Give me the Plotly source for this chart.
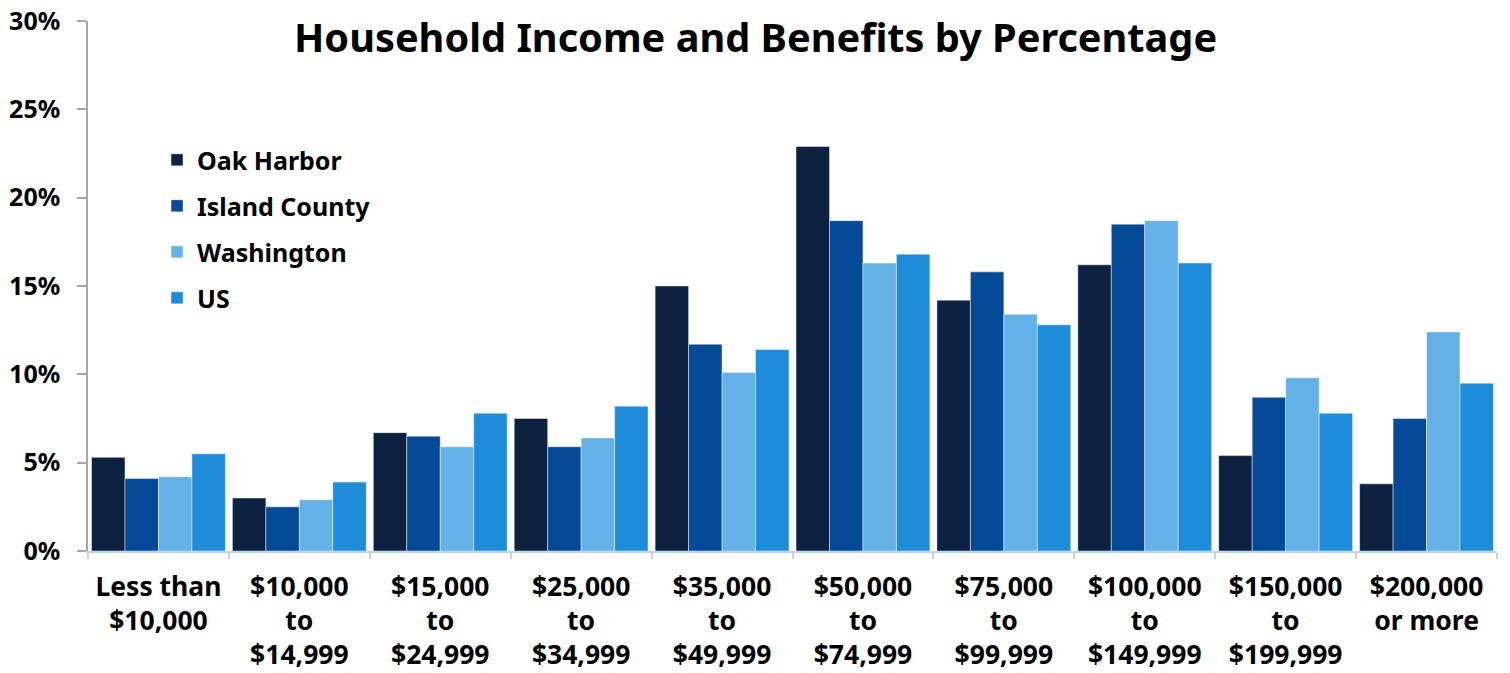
import plotly.graph_objects as go

categories = ["Less than<br>$10,000", "$10,000<br>to<br>$14,999", "$15,000<br>to<br>$24,999",
              "$25,000<br>to<br>$34,999", "$35,000<br>to<br>$49,999", "$50,000<br>to<br>$74,999",
              "$75,000<br>to<br>$99,999", "$100,000<br>to<br>$149,999", "$150,000<br>to<br>$199,999",
              "$200,000<br>or more"]

oak_harbor = [5.3, 3.0, 6.7, 7.5, 15.0, 22.9, 14.2, 16.2, 5.4, 3.8]
island_county = [4.1, 2.5, 6.5, 5.9, 11.7, 18.7, 15.8, 18.5, 8.7, 7.5]
washington = [4.2, 2.9, 5.9, 6.4, 10.1, 16.3, 13.4, 18.7, 9.8, 12.4]
us = [5.5, 3.9, 7.8, 8.2, 11.4, 16.8, 12.8, 16.3, 7.8, 9.5]

series_names = ["Oak Harbor", "Island County", "Washington", "US"]
series_values = [oak_harbor, island_county, washington, us]
colors = ["#0C2240", "#044A96", "#64B1E8", "#1F8CD9"]

y_ticks = [0, 5, 10, 15, 20, 25, 30]
y_tick_labels = ["0%", "5%", "10%", "15%", "20%", "25%", "30%"]

FONT = "Noto Sans, Open Sans, DejaVu Sans, sans-serif"

fig = go.Figure()
for name, vals, col in zip(series_names, series_values, colors):
    fig.add_trace(go.Bar(
        x=categories, y=vals, name=name, legendgroup=name,
        marker=dict(color=col, line=dict(color="rgba(255,255,255,0.45)", width=1)),
    ))

fig.update_layout(
    width=1510, height=673,
    margin=dict(l=88, r=13, t=20.7, b=122.3),
    paper_bgcolor="white", plot_bgcolor="white",
    barmode="group", bargap=0.05, bargroupgap=0,
    font=dict(family=FONT, color="black"),
    showlegend=True,
    legend=dict(
        x=0.049, y=0.781, xanchor="left", yanchor="top",
        font=dict(size=25, family=FONT, color="black", weight="bold"),
        tracegroupgap=10.5, bgcolor="rgba(0,0,0,0)",
    ),
    annotations=[dict(
        text="<b>Household Income and Benefits by Percentage</b>",
        xref="paper", yref="paper", x=0.4734, y=1 - (36 - 20) / 530,
        xanchor="center", yanchor="middle", showarrow=False,
        font=dict(size=39.7, family=FONT, color="black"),
    )],
)

fig.update_xaxes(
    showline=True, linecolor="#BDD5F0", linewidth=1.5,
    ticks="outside", tickson="boundaries", ticklen=6, tickcolor="#BDD5F0", tickwidth=1.5,
    tickfont=dict(size=26.5, family=FONT, color="black", weight="bold"),
    ticklabelstandoff=11, ticklabeloverflow="allow",
    tickangle=0, showgrid=False, automargin=False,
)
fig.update_yaxes(
    range=[0, 30], tickvals=y_ticks, ticktext=y_tick_labels,
    showline=True, linecolor="#A6A6A6", linewidth=1.5,
    ticks="outside", ticklen=9, tickcolor="#A6A6A6", tickwidth=1.5,
    tickfont=dict(size=25, family=FONT, color="black", weight="bold"),
    ticklabelstandoff=12, ticklabeloverflow="allow",
    showgrid=False, zeroline=False, automargin=False,
)

fig.write_html("out.html", config={"displayModeBar": False},
               post_script="document.body.style.margin='0';")
